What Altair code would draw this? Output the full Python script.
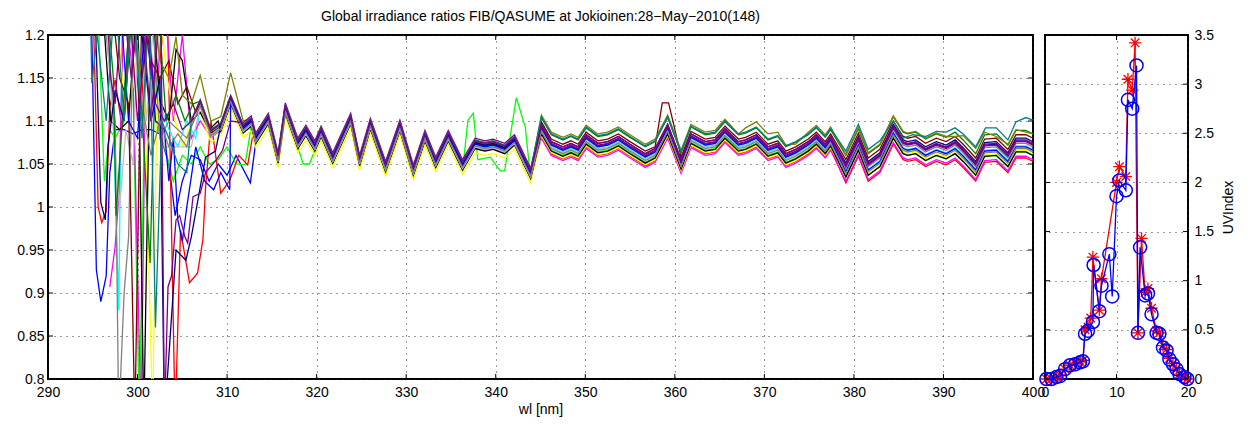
import altair as alt
import pandas as pd

# ---------------- common spectral ratio signature (bundle centre) ----------------
BASE_WL = [306.0, 307.0, 308.2, 309.3, 310.4, 311.8, 312.7, 313.2, 314.6, 315.7,
           316.5, 317.9, 318.8, 319.8, 320.5, 321.8, 323.8, 324.8, 326.0, 327.7,
           329.3, 330.8, 332.1, 333.3, 334.7, 336.3, 337.7, 338.8, 339.7, 341.0,
           342.1, 343.9, 345.1, 346.2, 347.5, 348.4, 349.2, 350.1, 351.4, 352.5,
           353.7, 355.0, 356.7, 357.8, 359.2, 360.7, 361.8, 363.4, 364.5, 365.6,
           367.1, 367.9, 369.1, 370.4, 371.5, 372.4, 373.5, 374.9, 375.8, 376.8,
           377.4, 379.1, 380.5, 381.6, 382.9, 384.4, 385.5, 386.0, 386.9, 388.0,
           389.2, 390.3, 391.3, 392.2, 393.6, 394.6, 395.9, 397.2, 398.1, 399.2,
           400.0]
BASE_VAL = [1.095, 1.119, 1.084, 1.092, 1.124, 1.090, 1.098, 1.078, 1.101, 1.055,
            1.113, 1.072, 1.087, 1.069, 1.086, 1.055, 1.101, 1.052, 1.095, 1.045,
            1.093, 1.041, 1.081, 1.050, 1.081, 1.047, 1.072, 1.069, 1.071, 1.066,
            1.076, 1.037, 1.092, 1.072, 1.066, 1.070, 1.066, 1.080, 1.070, 1.072,
            1.078, 1.069, 1.058, 1.064, 1.092, 1.051, 1.081, 1.072, 1.074, 1.087,
            1.072, 1.074, 1.080, 1.066, 1.070, 1.058, 1.063, 1.072, 1.080, 1.069,
            1.078, 1.045, 1.076, 1.047, 1.057, 1.090, 1.072, 1.070, 1.072, 1.064,
            1.070, 1.066, 1.072, 1.063, 1.047, 1.069, 1.070, 1.057, 1.074, 1.074,
            1.070]
assert len(BASE_WL) == len(BASE_VAL)

# ---------------- scans: colour and offsets per wavelength band ----------------
SERIES = ["s01", "s02", "s03", "s04", "s05", "s06", "s07", "s08", "s09",
          "s10", "s11", "s12", "s13", "s14", "s15", "s16", "s17", "s18"]
COLORS = ["#0000FF", "#00FF00", "#FF0000", "#00FFFF", "#FF00FF", "#FFFF00",
          "#000000", "#808080", "#C0C0C0", "#800000", "#008000", "#808000",
          "#000080", "#0000FF", "#808080", "#800080", "#008080", "#800080"]
OFF_A = [0.000, -0.004, 0.002, 0.000, -0.003, -0.009, -0.004, -0.002, -0.002,
         0.002, 0.004, 0.005, 0.003, 0.001, -0.001, 0.008, 0.006, 0.005]
OFF_B = [0.001, -0.006, -0.010, -0.002, -0.012, -0.009, -0.007, 0.000, -0.003,
         0.007, 0.012, 0.015, 0.004, 0.000, -0.004, 0.004, 0.013, 0.002]
OFF_C = [0.003, -0.010, -0.017, -0.003, -0.015, -0.008, -0.010, 0.000, -0.004,
         0.010, 0.015, 0.016, 0.006, -0.004, -0.006, 0.004, 0.020, 0.002]

# ---------------- individual deviations (wl, ratio) ----------------
BLUE_HEAD = [(294.8, 1.25), (295.4, 0.927), (295.9, 0.89), (296.5, 0.92), (296.9, 1.04),
             (297.5, 1.09), (298.5, 1.09), (299.5, 1.085), (300.5, 1.09), (301.5, 1.09),
             (302.5, 1.085), (303.5, 1.05), (304.2, 0.99), (305.0, 1.03), (306.0, 1.06),
             (307.0, 1.055), (308.0, 1.03), (309.0, 1.05), (310.0, 1.037), (311.0, 1.06),
             (312.6, 1.028), (313.2, 1.075)]
GREEN_HEAD = [(295.5, 1.25), (296.3, 1.03), (296.9, 1.09), (297.5, 1.08), (298.5, 1.10),
              (299.3, 1.25), (300.2, 0.75), (301.0, 1.25), (302.0, 1.10), (303.0, 1.07),
              (304.0, 1.03), (305.0, 1.06), (306.0, 1.05), (307.0, 1.07), (308.0, 1.05),
              (309.0, 1.055), (310.0, 1.07), (311.0, 1.05), (312.0, 1.049)]
GREEN_DIP = [(317.9, 1.07), (318.5, 1.05), (319.2, 1.05), (319.8, 1.066)]
GREEN_SPIKES = [(336.9, 1.101), (337.5, 1.109), (338.0, 1.055), (339.4, 1.058),
                (340.5, 1.042), (341.0, 1.042), (342.3, 1.127), (343.3, 1.093)]
RED_HEAD = [(295.0, 1.25), (295.6, 1.0), (296.0, 0.982), (296.5, 0.995), (296.9, 1.116),
            (297.5, 1.148), (298.3, 1.09), (299.3, 1.25), (300.3, 1.10), (301.3, 1.25),
            (302.3, 1.15), (303.3, 1.25), (304.2, 0.75), (304.8, 0.973), (305.8, 0.912),
            (306.7, 0.923), (307.3, 0.962), (307.6, 1.023), (308.2, 1.10), (309.3, 1.016),
            (310.3, 1.031), (311.3, 1.06), (312.3, 1.049), (312.9, 1.085)]
CYAN_HEAD = [(296.5, 1.25), (297.3, 1.10), (297.9, 0.88), (298.3, 1.25), (299.5, 1.25),
             (300.5, 1.15), (301.5, 1.25), (302.5, 1.12), (303.5, 1.09), (304.5, 1.07),
             (305.5, 1.10), (306.5, 1.08)]
MAGENTA_HEAD = [(296.9, 0.907), (297.5, 0.954), (297.9, 1.012), (298.5, 1.25), (299.5, 1.15),
                (300.4, 0.75), (301.0, 1.25), (302.0, 1.12), (303.0, 1.25), (304.0, 1.10),
                (305.0, 1.20), (306.0, 1.08), (307.0, 1.10)]
YELLOW_HEAD = [(297.5, 1.25), (298.6, 1.11), (299.5, 1.14), (300.5, 1.25), (301.7, 0.75),
               (302.3, 1.25), (303.3, 1.15), (304.2, 1.10), (305.1, 1.07), (306.0, 1.10)]
BLACK_HEAD = [(296.0, 1.25), (297.0, 1.10), (298.0, 1.09), (299.0, 1.10), (300.0, 1.25),
              (300.7, 0.75), (301.5, 1.25), (302.5, 1.124), (303.5, 1.10), (304.3, 1.183),
              (305.0, 1.17), (306.0, 1.10), (307.0, 1.11), (308.0, 1.09), (309.0, 1.10)]
GRAY_HEAD = [(296.0, 1.25), (297.5, 1.10), (297.9, 0.75), (298.5, 0.90), (299.0, 0.965),
             (299.6, 1.25), (300.5, 1.10), (301.5, 1.25), (302.5, 1.08), (303.5, 1.10),
             (304.5, 1.09), (305.5, 1.08)]
LGRAY_HEAD = [(296.3, 1.25), (297.3, 1.09), (298.0, 1.0), (298.7, 1.09), (299.5, 1.05),
              (300.2, 1.25), (301.0, 1.10), (302.0, 1.25), (303.0, 1.07), (304.0, 1.07),
              (305.0, 1.07), (306.0, 1.07)]
MAROON_HEAD = [(297.0, 1.25), (298.0, 1.15), (299.0, 1.12), (299.7, 0.75), (300.5, 1.25),
               (301.5, 1.17), (302.5, 1.15), (303.5, 1.17), (304.5, 1.12), (305.5, 1.14),
               (306.5, 1.11)]
MAROON_BUMP = [(357.8, 1.07), (358.6, 1.121), (359.3, 1.121), (359.9, 1.095)]
DGREEN_HEAD = [(296.5, 1.25), (297.3, 1.15), (297.6, 0.99), (298.3, 1.10), (299.3, 1.25),
               (300.3, 1.15), (301.4, 0.935), (302.2, 1.25), (303.2, 1.10), (304.3, 1.13),
               (305.3, 1.10), (306.2, 1.12)]
OLIVE_HEAD = [(297.0, 1.25), (298.0, 1.20), (299.0, 1.25), (300.5, 1.15), (301.5, 1.25),
              (302.5, 1.17), (303.5, 1.15), (304.3, 1.198), (305.0, 1.13), (306.0, 1.12),
              (307.0, 1.153), (308.2, 1.10), (309.3, 1.105), (310.4, 1.156), (311.8, 1.10)]
OLIVE_MID = [(367.1, 1.085), (367.9, 1.092), (369.1, 1.099), (370.4, 1.085), (371.5, 1.087),
             (372.4, 1.072), (373.5, 1.073)]
OLIVE_END = [(391.3, 1.082), (392.2, 1.083), (393.6, 1.068), (394.6, 1.087), (395.9, 1.082),
             (397.2, 1.073), (398.1, 1.090), (399.2, 1.087), (400.0, 1.085)]
NAVY_HEAD = [(295.2, 1.25), (295.9, 1.005), (296.4, 0.985), (296.7, 1.07), (297.5, 1.136),
             (298.5, 1.10), (299.5, 1.25), (300.5, 1.20), (301.5, 1.10), (302.5, 1.15),
             (303.0, 0.75), (304.3, 0.95), (305.4, 0.938), (306.0, 0.965), (307.0, 1.023),
             (307.6, 1.058), (308.7, 1.065)]
BLUE2_HEAD = [(298.0, 1.25), (299.0, 1.10), (300.0, 1.08), (301.0, 1.25), (302.0, 1.10),
              (303.0, 1.09), (303.5, 1.03), (304.0, 1.08), (304.5, 0.985), (305.0, 0.96),
              (305.5, 1.0), (306.5, 1.07), (307.5, 1.03), (308.5, 1.02), (309.3, 1.04),
              (310.3, 1.02)]
GRAY2_HEAD = [(299.5, 1.25), (300.5, 1.12), (301.5, 1.06), (302.5, 1.10), (303.5, 1.07),
              (304.5, 1.085), (305.5, 1.07)]
PURPLE_HEAD = [(296.5, 1.25), (297.0, 1.15), (297.5, 1.12), (298.3, 1.25), (299.3, 1.15),
               (300.3, 1.25), (301.5, 1.10), (302.6, 1.25), (303.0, 0.75), (303.4, 0.907),
               (303.8, 0.92), (304.3, 0.985), (304.7, 0.99), (305.3, 0.965), (305.6, 0.958),
               (306.2, 1.012), (307.0, 1.016), (307.6, 1.04), (308.8, 1.055), (309.5, 1.066),
               (310.4, 1.10)]
TEAL_HEAD = [(294.7, 1.25), (294.9, 1.144), (295.5, 1.20), (296.5, 1.10), (297.5, 1.25),
             (298.5, 1.10), (299.5, 1.25), (300.5, 1.08), (301.3, 1.25), (302.0, 0.86),
             (302.7, 1.10), (303.5, 1.08), (304.5, 1.05), (305.5, 1.04)]
TEAL_END = [(384.4, 1.100), (385.5, 1.080), (386.6, 1.084), (388.0, 1.082), (389.2, 1.088),
            (390.3, 1.087), (391.3, 1.092), (392.2, 1.085), (393.6, 1.070), (394.7, 1.092),
            (395.9, 1.092), (397.2, 1.078), (398.1, 1.099), (399.2, 1.104), (400.0, 1.101)]
PURPLE2_HEAD = [(299.0, 1.25), (300.0, 1.10), (301.0, 1.20), (302.0, 1.12), (303.0, 1.10),
                (304.0, 1.12), (305.0, 1.09)]

OVERRIDES = {
    "s01": [BLUE_HEAD], "s02": [GREEN_HEAD, GREEN_DIP, GREEN_SPIKES], "s03": [RED_HEAD],
    "s04": [CYAN_HEAD], "s05": [MAGENTA_HEAD], "s06": [YELLOW_HEAD], "s07": [BLACK_HEAD],
    "s08": [GRAY_HEAD], "s09": [LGRAY_HEAD], "s10": [MAROON_HEAD, MAROON_BUMP],
    "s11": [DGREEN_HEAD], "s12": [OLIVE_HEAD, OLIVE_MID, OLIVE_END], "s13": [NAVY_HEAD],
    "s14": [BLUE2_HEAD], "s15": [GRAY2_HEAD], "s16": [PURPLE_HEAD], "s17": [TEAL_HEAD, TEAL_END],
    "s18": [PURPLE2_HEAD],
}

# ---------------- UV index panel ----------------
BLUE_H = [0.2, 0.9, 1.6, 2.1, 2.8, 3.5, 4.2, 4.9, 5.3, 5.6, 6.0, 6.7, 6.8, 7.6, 7.9,
          9.0, 9.4, 10.0, 10.4, 11.3, 11.6, 12.2, 12.8, 13.0, 13.3, 14.0, 14.4, 14.9,
          15.6, 16.0, 16.5, 17.0, 17.4, 17.9, 18.4, 18.8, 19.5, 19.9]
BLUE_UV = [0.0, 0.0, 0.02, 0.03, 0.10, 0.14, 0.15, 0.17, 0.18, 0.46, 0.49, 0.58, 1.16, 0.69,
           0.95, 1.27, 0.84, 1.86, 2.02, 1.92, 2.84, 2.75, 3.19, 0.47, 1.34, 0.85, 0.87, 0.66,
           0.47, 0.46, 0.32, 0.29, 0.20, 0.15, 0.10, 0.05, 0.02, 0.0]
RED_H = [0.2, 0.9, 1.6, 2.1, 2.8, 3.5, 4.2, 4.9, 5.3, 5.6, 6.0, 6.4, 6.7, 7.6, 7.9,
         10.0, 10.4, 11.3, 11.6, 12.2, 12.6, 13.0, 13.5, 14.0, 14.4, 14.9, 15.6, 16.0,
         16.5, 17.0, 17.4, 17.9, 18.4, 18.8, 19.5, 19.9]
RED_UV = [0.0, 0.0, 0.02, 0.04, 0.10, 0.14, 0.16, 0.18, 0.19, 0.50, 0.53, 0.62, 1.24, 0.70,
          1.02, 2.0, 2.16, 2.06, 3.05, 2.94, 3.42, 0.47, 1.43, 0.88, 0.92, 0.72, 0.49, 0.47,
          0.34, 0.30, 0.21, 0.16, 0.10, 0.05, 0.02, 0.0]

X_TICKS = [290, 300, 310, 320, 330, 340, 350, 360, 370, 380, 390, 400]
Y_TICKS = [0.8, 0.85, 0.9, 0.95, 1.0, 1.05, 1.1, 1.15, 1.2]
UV_X_TICKS = [0, 10, 20]
UV_Y_TICKS = [0, 0.5, 1.0, 1.5, 2.0, 2.5, 3.0, 3.5]

TITLE = "Global irradiance ratios FIB/QASUME at Jokioinen:28\u2212May\u22122010(148)"
FONT = "Liberation Sans"

# ---------------- build long table ----------------
rows = []
for i, name in enumerate(SERIES):
    segs = OVERRIDES.get(name, [])
    ranges = [(min(p[0] for p in s), max(p[0] for p in s)) for s in segs]
    for wl, v in zip(BASE_WL, BASE_VAL):
        if any(lo <= wl <= hi for lo, hi in ranges):
            continue
        off = OFF_A[i] if wl < 344.5 else (OFF_B[i] if wl < 378.0 else OFF_C[i])
        rows.append({"series": name, "wl": wl, "ratio": round(v + off, 4)})
    for s in segs:
        for wl, v in s:
            rows.append({"series": name, "wl": wl, "ratio": v})
df = pd.DataFrame(rows)

W_L, H = 985, 344
W_R = 143

xs = alt.Scale(domain=[290, 400], nice=False, zero=False)
ys = alt.Scale(domain=[0.8, 1.2], nice=False, zero=False)
x_axis = alt.Axis(values=X_TICKS, format="d", title="wl [nm]", titlePadding=3,
                  labelPadding=6, labelFlush=False)
y_axis = alt.Axis(values=Y_TICKS, format="~g", title=None, labelFlush=False)

lines = alt.Chart(df).mark_line(clip=True, strokeWidth=1.3).encode(
    x=alt.X("wl:Q", scale=xs, axis=x_axis),
    y=alt.Y("ratio:Q", scale=ys, axis=y_axis),
    color=alt.Color("series:N", scale=alt.Scale(domain=SERIES, range=COLORS), legend=None),
)

xt = pd.DataFrame({"wl": X_TICKS})
yt = pd.DataFrame({"ratio": Y_TICKS})
tick_b = alt.Chart(xt).mark_rule(color="black", strokeWidth=1).encode(
    x=alt.X("wl:Q", scale=xs, axis=x_axis), y=alt.value(H), y2=alt.value(H - 5))
tick_t = alt.Chart(xt).mark_rule(color="black", strokeWidth=1).encode(
    x=alt.X("wl:Q", scale=xs, axis=x_axis), y=alt.value(0), y2=alt.value(5))
tick_l = alt.Chart(yt).mark_rule(color="black", strokeWidth=1).encode(
    y=alt.Y("ratio:Q", scale=ys, axis=y_axis), x=alt.value(0), x2=alt.value(5))
tick_r = alt.Chart(yt).mark_rule(color="black", strokeWidth=1).encode(
    y=alt.Y("ratio:Q", scale=ys, axis=y_axis), x=alt.value(W_L), x2=alt.value(W_L - 5))

left = alt.layer(lines, tick_b, tick_t, tick_l, tick_r).properties(
    width=W_L, height=H,
    title=alt.TitleParams(TITLE, font=FONT, fontSize=14, fontWeight="normal",
                          anchor="middle", offset=4, color="black"))

uv_blue = pd.DataFrame({"hour": BLUE_H, "uv": BLUE_UV})
uv_red = pd.DataFrame({"hour": RED_H, "uv": RED_UV})
hs = alt.Scale(domain=[0, 20], nice=False, zero=False)
us = alt.Scale(domain=[0, 3.5], nice=False, zero=False)
ASTERISK = "M-1,0L1,0M0,-1L0,1M-0.7,-0.7L0.7,0.7M-0.7,0.7L0.7,-0.7"

h_axis = alt.Axis(values=UV_X_TICKS, format="d", title=None, labelPadding=6, labelFlush=False)
u_axis = alt.Axis(values=UV_Y_TICKS, format="~g", orient="right", title="UVIndex",
                  titleAngle=270, titleBaseline="top", titlePadding=8, labelPadding=6,
                  labelFlush=False)
enc_x = alt.X("hour:Q", scale=hs, axis=h_axis)
enc_y = alt.Y("uv:Q", scale=us, axis=u_axis)
red_line = alt.Chart(uv_red).mark_line(color="#FF0000", strokeWidth=1.3).encode(x=enc_x, y=enc_y)
red_pts = alt.Chart(uv_red).mark_point(shape=ASTERISK, color="#FF0000", filled=False,
                                       size=150, strokeWidth=1.3, opacity=1).encode(x=enc_x, y=enc_y)
blue_line = alt.Chart(uv_blue).mark_line(color="#0000FF", strokeWidth=1.3).encode(x=enc_x, y=enc_y)
blue_pts = alt.Chart(uv_blue).mark_point(shape="circle", color="#0000FF", filled=False,
                                         size=170, strokeWidth=1.5, opacity=1).encode(x=enc_x, y=enc_y)

hxt = pd.DataFrame({"hour": UV_X_TICKS})
hyt = pd.DataFrame({"uv": UV_Y_TICKS})
r_tick_b = alt.Chart(hxt).mark_rule(color="black").encode(
    x=enc_x, y=alt.value(H), y2=alt.value(H - 5))
r_tick_t = alt.Chart(hxt).mark_rule(color="black").encode(
    x=enc_x, y=alt.value(0), y2=alt.value(5))
r_tick_l = alt.Chart(hyt).mark_rule(color="black").encode(
    y=enc_y, x=alt.value(0), x2=alt.value(5))
r_tick_r = alt.Chart(hyt).mark_rule(color="black").encode(
    y=enc_y, x=alt.value(W_R), x2=alt.value(W_R - 5))

right = alt.layer(red_line, red_pts, blue_line, blue_pts,
                  r_tick_b, r_tick_t, r_tick_l, r_tick_r).properties(width=W_R, height=H)

chart = alt.hconcat(left, right, spacing=12, bounds="flush").properties(
    padding={"left": 15, "top": 9, "right": 0, "bottom": 0},
    background="white",
).configure_view(
    stroke="black", strokeWidth=2
).configure_axis(
    labelFont=FONT, labelFontSize=14, labelColor="black",
    titleFont=FONT, titleFontSize=14, titleFontWeight="normal", titleColor="black",
    domain=False, ticks=False, labelPadding=4,
    grid=True, gridColor="#222222", gridDash=[1, 5], gridWidth=1, gridOpacity=0.9,
)

chart.save("out.html", embed_options={"renderer": "svg", "actions": False})
